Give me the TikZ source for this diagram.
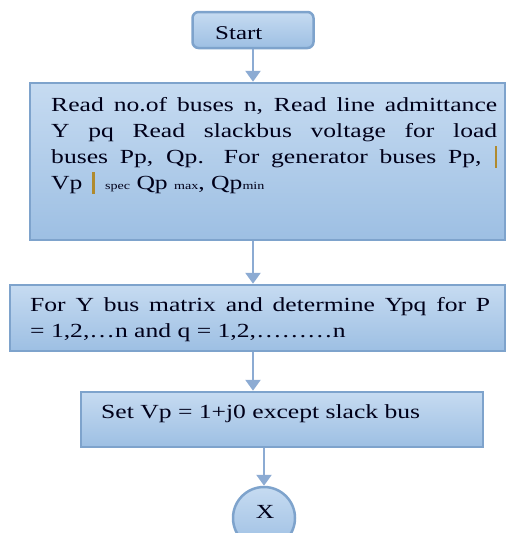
\documentclass[tikz,border=0pt]{standalone}
\usepackage{fontspec}
\setmainfont[FakeStretch=1.28]{Liberation Serif}
\usetikzlibrary{arrows.meta}
\definecolor{boxtop}{HTML}{C6DBF1}
\definecolor{boxbot}{HTML}{9DBFE3}
\definecolor{boxline}{HTML}{7EA3CC}
\definecolor{flowline}{HTML}{8CABD3}
\definecolor{bargold}{HTML}{B08A2E}
\newcommand{\gbar}{\textcolor{bargold}{\rule[-4pt]{2.6pt}{22pt}}}
\newcommand{\smalltxt}[1]{{\fontsize{11}{11}\selectfont #1}}
\tikzset{
  procbox/.style={draw=boxline,line width=2.5pt,top color=boxtop,bottom color=boxbot,inner sep=0pt},
  procarrow/.style={draw=flowline,line width=2.5pt,-{Triangle[width=15pt,length=11pt]}},
  boxtext/.style={inner sep=0pt,text=black!90!blue,font=\fontsize{20}{26}\selectfont}
}
\begin{document}
\begin{tikzpicture}[x=1pt,y=1pt]
\useasboundingbox (0,0) rectangle (507,-533);
% boxes
\node[procbox,rectangle,rounded corners=6pt,minimum width=121pt,minimum height=36pt] (start) at (253,-30) {};
\node[procbox,rectangle,minimum width=475pt,minimum height=157pt] (readbox) at (267.5,-161.5) {};
\node[procbox,rectangle,minimum width=495pt,minimum height=66pt] (ybusbox) at (257.5,-318) {};
\node[procbox,rectangle,minimum width=402pt,minimum height=55pt] (setbox) at (282,-419.5) {};
\node[procbox,circle,minimum size=62pt] (xnode) at (264,-518) {};
% texts
\node[boxtext,anchor=base west,font=\fontsize{19.5}{22}\selectfont] (starttext) at (215,-39) {Start};
\node[boxtext,anchor=north west,text width=446pt,align=justify] (readtext) at (51,-97.5)
  {Read no.of buses n, Read line admittance\linebreak
   Y pq Read slackbus voltage for load\linebreak
   buses Pp, Qp.\quad For generator buses Pp, \gbar\linebreak
   Vp\hspace{10pt}\gbar\hspace{10pt}\smalltxt{spec} Qp \smalltxt{max}, Qp\smalltxt{min}\par};
\node[boxtext,anchor=north west,text width=460pt,align=justify] (ybustext) at (30,-297.5)
  {For Y bus matrix and determine Ypq for P\linebreak
   = 1,2,…n and q = 1,2,………n\par};
\node[boxtext,anchor=base west] (settext) at (101,-418) {Set Vp = 1+j0 except slack bus};
\node[boxtext,anchor=base] (xtext) at (265,-518) {X};
% arrows
\draw[procarrow] (start.south) -- (start.south |- readbox.north);
\draw[procarrow] (readbox.south -| start) -- (ybusbox.north -| start);
\draw[procarrow] (ybusbox.south -| start) -- (setbox.north -| start);
\draw[procarrow] (setbox.south -| xnode) -- (xnode.north);
\end{tikzpicture}
\end{document}
